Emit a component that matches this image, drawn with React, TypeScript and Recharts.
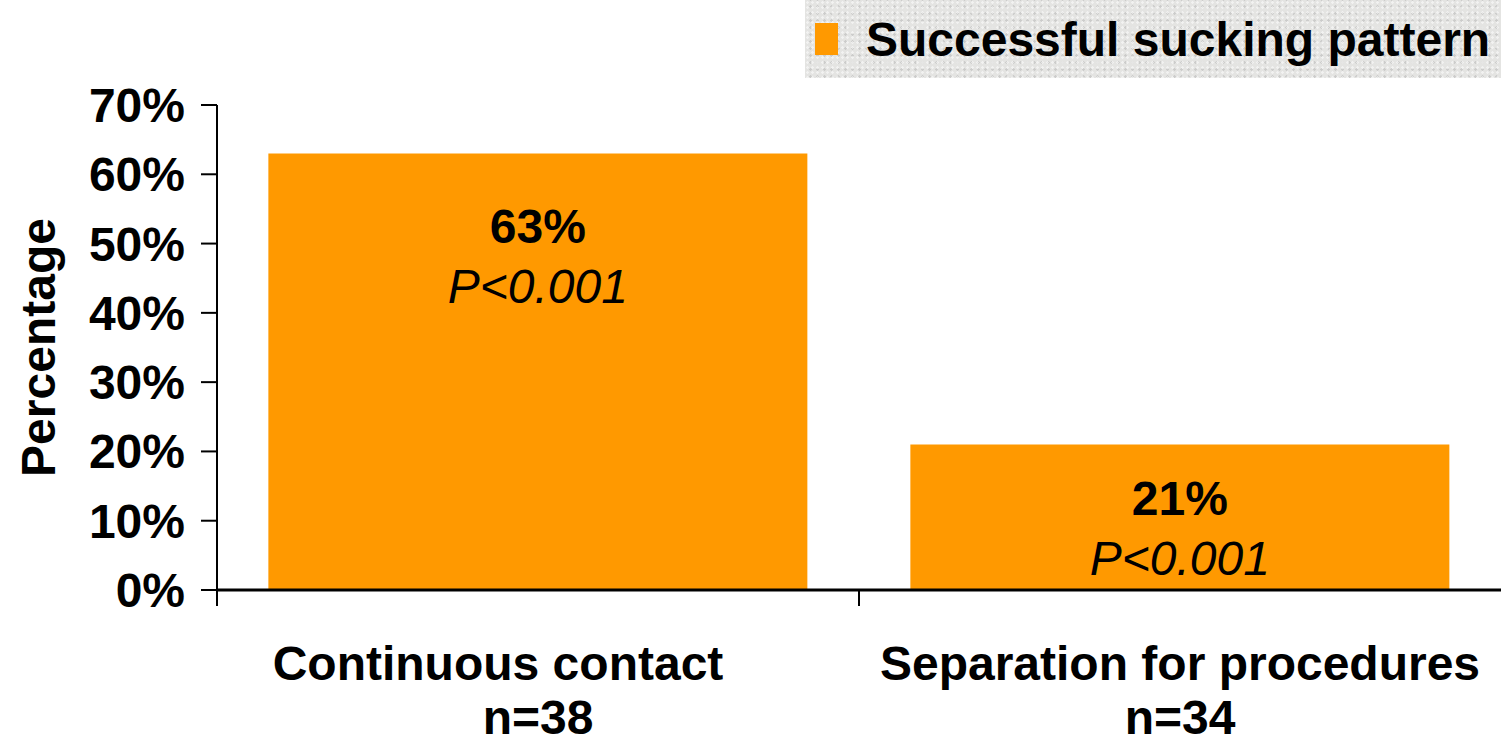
import { BarChart, Bar, XAxis, YAxis, LabelList } from 'recharts';

const categories = ['Continuous contact', 'Separation for procedures'];
const sampleSizes = ['n=38', 'n=34'];
const successRates = [0.63, 0.21];
const pValues = ['P<0.001', 'P<0.001'];
const yTicks = [0, 0.1, 0.2, 0.3, 0.4, 0.5, 0.6, 0.7];
const seriesName = 'Successful sucking pattern';

const data = categories.map((name, i) => ({
  name,
  n: sampleSizes[i],
  value: successRates[i],
  p: pValues[i],
}));

const FONT = '"Liberation Sans", Arial, sans-serif';
const FS = 48;
const ORANGE = '#FF9900';
const W = 1501;
const H = 746;
const X_AXIS_H = 30;
const MARGIN = { top: 105, right: 0, bottom: 156 - X_AXIS_H, left: 0 };
const Y_AXIS_W = 217;
const BAND = (W - MARGIN.left - MARGIN.right - Y_AXIS_W) / categories.length;
const LABEL_OFFSETS = [72, 53];
const CATEGORY_DX = [-40, 0];

// tick props come in 8px below the axis line (tickSize + tickMargin)
function XTick(props: any) {
  const { x, y, payload, index } = props;
  const row = data[index];
  const axisY = y - 8;
  return (
    <g>
      <line x1={x - BAND / 2} y1={axisY} x2={x - BAND / 2} y2={axisY + 16} stroke="#000" strokeWidth={2} />
      <text
        x={x + (CATEGORY_DX[index] || 0)}
        y={axisY + 90}
        textAnchor="middle"
        fontFamily={FONT}
        fontWeight="bold"
        fontSize={FS}
        fill="#000"
      >
        {payload.value}
      </text>
      <text x={x} y={axisY + 144} textAnchor="middle" fontFamily={FONT} fontWeight="bold" fontSize={FS} fill="#000">
        {row ? row.n : ''}
      </text>
    </g>
  );
}

function BarLabel(props: any) {
  const { x, y, width, index } = props;
  const cx = x + width / 2;
  const top = y + LABEL_OFFSETS[index];
  return (
    <g>
      <text x={cx} y={top + 17} textAnchor="middle" fontFamily={FONT} fontWeight="bold" fontSize={FS} fill="#000">
        {Math.round(successRates[index] * 100)}%
      </text>
      <text x={cx} y={top + 77} textAnchor="middle" fontFamily={FONT} fontStyle="italic" fontSize={FS} fill="#000">
        {pValues[index]}
      </text>
    </g>
  );
}

function LegendBox() {
  return (
    <div
      style={{
        position: 'absolute',
        top: 0,
        right: 0,
        width: 696,
        height: 78,
        background: '#e4e4e2',
        backgroundImage:
          'radial-gradient(rgba(255,255,255,0.5) 1px, transparent 1.5px), radial-gradient(rgba(160,160,160,0.35) 1px, transparent 1.5px)',
        backgroundSize: '5px 5px, 7px 7px',
        backgroundPosition: '0 0, 2px 3px',
        display: 'flex',
        alignItems: 'center',
        boxSizing: 'border-box',
        paddingLeft: 10,
        fontFamily: FONT,
        fontWeight: 'bold',
        fontSize: FS,
        color: '#000',
      }}
    >
      <span style={{ display: 'inline-block', width: 23, height: 32, background: ORANGE, marginRight: 28 }} />
      <span>{seriesName}</span>
    </div>
  );
}

export default function App() {
  return (
    <div style={{ position: 'absolute', left: 0, top: 0, width: W, height: H, background: '#fff' }}>
      <BarChart width={W} height={H} data={data} margin={MARGIN} barCategoryGap="8%">
        <XAxis
          dataKey="name"
          height={X_AXIS_H}
          axisLine={{ stroke: '#000', strokeWidth: 3 }}
          tickLine={false}
          tick={<XTick />}
          interval={0}
        />
        <YAxis
          width={Y_AXIS_W}
          domain={[0, 0.7]}
          ticks={yTicks}
          interval={0}
          tickFormatter={(v: number) => `${Math.round(v * 100)}%`}
          axisLine={{ stroke: '#000', strokeWidth: 2 }}
          tickLine={{ stroke: '#000', strokeWidth: 2 }}
          tickSize={16}
          tickMargin={16}
          tick={{ fontFamily: FONT, fontWeight: 'bold', fontSize: FS, fill: '#000' }}
          label={{
            value: 'Percentage',
            angle: -90,
            position: 'insideLeft',
            offset: 38,
            style: { fontFamily: FONT, fontWeight: 'bold', fontSize: FS, fill: '#000', textAnchor: 'middle' },
          }}
        />
        <Bar dataKey="value" name={seriesName} fill={ORANGE} isAnimationActive={false}>
          <LabelList dataKey="value" content={<BarLabel />} />
        </Bar>
      </BarChart>
      <LegendBox />
    </div>
  );
}
